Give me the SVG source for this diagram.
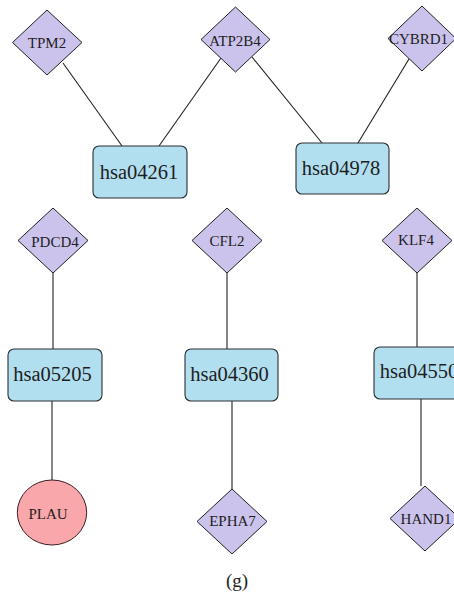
<svg xmlns="http://www.w3.org/2000/svg" width="454" height="595" viewBox="0 0 454 595">
  <style>
    .edge { stroke: #222; stroke-width: 1.1; fill: none; }
    .gene { fill: #cbc3ec; stroke: #222; stroke-width: 1; }
    .path { fill: #b1dff0; stroke: #2a2f33; stroke-width: 1.1; }
    .target { fill: #f9a7ab; stroke: #3a1f22; stroke-width: 1; }
    .lbl { font-family: "Liberation Serif", "Times New Roman", serif; fill: #1e1e1e; text-anchor: middle; }
    .small { font-size: 15px; }
    .big { font-size: 20.5px; }
  </style>
  <rect width="454" height="595" fill="#ffffff"/>

  <!-- connectors -->
  <g id="edges">
    <line class="edge" x1="63" y1="63" x2="122" y2="146"/>
    <line class="edge" x1="221" y1="58" x2="159" y2="146"/>
    <line class="edge" x1="252" y1="57" x2="322" y2="143"/>
    <line class="edge" x1="409" y1="59" x2="358" y2="143"/>
    <line class="edge" x1="53" y1="273" x2="53" y2="349"/>
    <line class="edge" x1="227" y1="273" x2="227" y2="349"/>
    <line class="edge" x1="417" y1="273" x2="417" y2="347"/>
    <line class="edge" x1="52" y1="401" x2="52" y2="480"/>
    <line class="edge" x1="232" y1="401" x2="232" y2="489"/>
    <line class="edge" x1="421" y1="399" x2="421" y2="486"/>
  </g>

  <!-- gene nodes -->
  <g id="TPM2">
    <polygon class="gene" points="47,10 82,42.5 47,75 12.5,42.5"/>
    <text class="lbl small" x="47" y="47.5">TPM2</text>
  </g>
  <g id="ATP2B4">
    <polygon class="gene" points="235.5,7 270,39.5 235.5,72 201,39.5"/>
    <text class="lbl small" x="235" y="45.5">ATP2B4</text>
  </g>
  <g id="CYBRD1">
    <polygon class="gene" points="422,6 456,38.5 422,71 388,38.5"/>
    <text class="lbl small" x="418.5" y="43.5">CYBRD1</text>
  </g>

  <g id="hsa04261">
    <rect class="path" x="93" y="146" width="94" height="52" rx="6"/>
    <text class="lbl big" x="139" y="178.5">hsa04261</text>
  </g>
  <g id="hsa04978">
    <rect class="path" x="296" y="143" width="93" height="51" rx="6"/>
    <text class="lbl big" x="341" y="174.5">hsa04978</text>
  </g>

  <g id="PDCD4">
    <polygon class="gene" points="53,208 88,240.5 53,273 18,240.5"/>
    <text class="lbl small" x="55" y="247">PDCD4</text>
  </g>
  <g id="CFL2">
    <polygon class="gene" points="227,208 262,240.5 227,273 192,240.5"/>
    <text class="lbl small" x="227" y="246">CFL2</text>
  </g>
  <g id="KLF4">
    <polygon class="gene" points="417,208 452,240.5 417,273 382,240.5"/>
    <text class="lbl small" x="416" y="244.5">KLF4</text>
  </g>

  <g id="hsa05205">
    <rect class="path" x="8" y="349" width="94" height="52" rx="6"/>
    <text class="lbl big" x="52.5" y="380.5">hsa05205</text>
  </g>
  <g id="hsa04360">
    <rect class="path" x="185" y="349" width="93" height="52" rx="6"/>
    <text class="lbl big" x="229.5" y="380.5">hsa04360</text>
  </g>
  <g id="hsa04550">
    <rect class="path" x="374" y="347" width="94" height="52" rx="6"/>
    <text class="lbl big" x="419" y="377.5">hsa04550</text>
  </g>

  <g id="PLAU">
    <ellipse class="target" cx="52" cy="512.5" rx="34.7" ry="32.5"/>
    <text class="lbl small" x="48" y="518.5">PLAU</text>
  </g>
  <g id="EPHA7">
    <polygon class="gene" points="232,489 267,521.5 232,554 197,521.5"/>
    <text class="lbl small" x="232.5" y="526">EPHA7</text>
  </g>
  <g id="HAND1">
    <polygon class="gene" points="425,486 460,518.5 425,551 390,518.5"/>
    <text class="lbl small" x="426" y="523.5">HAND1</text>
  </g>

  <text class="lbl" x="237" y="586.5" font-size="19px">(g)</text>
</svg>
